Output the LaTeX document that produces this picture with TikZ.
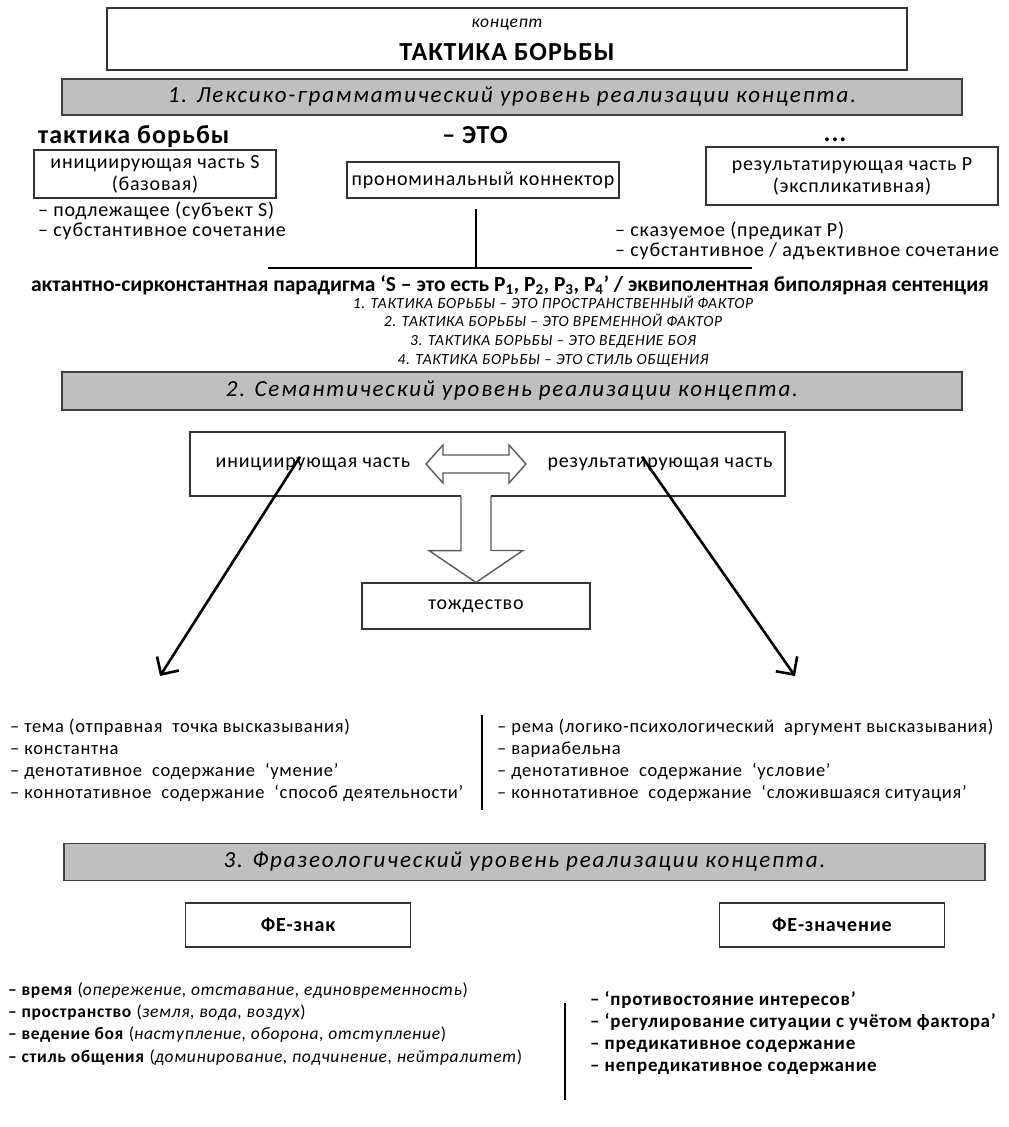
\documentclass[tikz,border=0pt]{standalone}
\usepackage{fontspec}
\setmainfont{Carlito}[LetterSpace=4]
\newfontfamily\barfont{Carlito}[LetterSpace=8]
\newfontfamily\tightfont{Carlito}
\usetikzlibrary{arrows.meta}

\newcommand\bodysize{\fontsize{20}{22}\selectfont}

\begin{document}
\begin{tikzpicture}[
    x=1pt, y=-1pt,
    box/.style={
        draw=black!80,
        line width=1.1pt,
        fill=white,
        inner sep=0pt,
        align=center,
        font=\bodysize
    },
    bar/.style={
        draw=black!75,
        line width=1.4pt,
        fill=gray!50,
        inner sep=0pt,
        font=\barfont\fontsize{23}{26}\selectfont\itshape
    },
    txt/.style={
        inner sep=0pt,
        font=\bodysize
    },
    item/.style={
        txt,
        anchor=base west
    },
    rule/.style={
        line width=2.6pt
    },
    pointer/.style={
        line width=2.6pt,
        -{Straight Barb[length=13pt, width=26pt]}
    },
    hollow/.style={
        draw=gray!70!black,
        line width=1.4pt,
        fill=white,
        line join=miter
    }
]
\useasboundingbox (0,0) rectangle (1009,1127);
\fill[white] (0,0) rectangle (1009,1127);

% title
\node[box, minimum width=800pt, minimum height=62pt] (title) at (507,39) {};
\node[txt, font=\fontsize{17.5}{20}\selectfont\itshape] (concept) at (507,25) {концепт};
\node[txt, font=\fontsize{26}{30}\selectfont\bfseries] (name) at (507,52) {ТАКТИКА БОРЬБЫ};

% level 1
\node[bar, minimum width=900pt, minimum height=36pt] (level1) at (512,97)
    {1. Лексико-грамматический\ уровень реализации концепта.};

\node[txt, anchor=base west, font=\fontsize{26}{30}\selectfont\bfseries] (subject) at (38,143) {тактика борьбы};
\node[txt, anchor=base, font=\fontsize{26}{30}\selectfont\bfseries] (copula) at (475,143) {– ЭТО};
\node[txt, anchor=base, font=\fontsize{26}{30}\selectfont\bfseries] (dots) at (835,141) {...};

\node[box, minimum width=242pt, minimum height=48pt] (partS) at (155,174)
    {инициирующая часть S\\(базовая)};
\node[box, minimum width=272pt, minimum height=36pt] (connector) at (483,180)
    {прономинальный коннектор};
\node[box, minimum width=292pt, minimum height=58pt] (partP) at (852,176)
    {результатирующая часть P\\(экспликативная)};

\foreach \txt [count=\i] in {{– подлежащее (субъект S)}, {– субстантивное сочетание}}
    \node[item] (subj-\i) at (38,{196+20*\i}) {\txt};
\foreach \txt [count=\i] in {{– сказуемое (предикат P)}, {– субстантивное / адъективное сочетание}}
    \node[item] (pred-\i) at (615,{216+20*\i}) {\txt};

\coordinate (fork) at (476,268);
\coordinate (forkL) at (268,268);
\coordinate (forkR) at (752,268);
\draw[rule] ([yshift=-10pt]connector.south -| fork) -- (fork);
\draw[rule] (forkL) -- (forkR);

\node[txt, anchor=base, font=\tightfont\fontsize{21.5}{24}\selectfont\bfseries] (paradigm) at (510,291)
    {актантно-сирконстантная парадигма ‘S – это есть P\textsubscript{1}, P\textsubscript{2}, P\textsubscript{3}, P\textsubscript{4}’ / эквиполентная биполярная сентенция};
\foreach \txt [count=\i] in {
    {ПРОСТРАНСТВЕННЫЙ ФАКТОР},
    {ВРЕМЕННОЙ ФАКТОР},
    {ВЕДЕНИЕ БОЯ},
    {СТИЛЬ ОБЩЕНИЯ}}
    \node[txt, anchor=base, font=\fontsize{15.5}{18}\selectfont\itshape] (example-\i) at (553,{289.5+18.7*\i})
        {\i. ТАКТИКА БОРЬБЫ – ЭТО \txt};

% level 2
\node[bar, minimum width=900pt, minimum height=38pt] (level2) at (512,391)
    {2. Семантический уровень реализации концепта.};

\node[box, minimum width=595pt, minimum height=64pt] (semantic) at (487.5,464) {};
\node[txt] (initL) at (313,464) {инициирующая часть};
\node[txt] (resultL) at (660,464) {результатирующая часть};

\draw[hollow] (426,464) -- (443,445) -- (443,455) -- (509,455) -- (509,445)
    -- (526,464) -- (509,483) -- (509,473) -- (443,473) -- (443,483) -- cycle;

\node[box, minimum width=228pt, minimum height=46pt] (identity) at (476,606) {тождество};

\fill[white] ([xshift=-15pt]identity.north |- semantic.south) ++(0,-2) rectangle ++(30,4);
\draw[hollow, fill=none] ([xshift=-15pt]identity.north |- semantic.south)
    -- ++(0,54) -- ++(-32,0) -- (identity.north) -- ++(47,-32) -- ++(-32,0)
    -- ++(0,-54);

\coordinate (themeTip) at (160,676);
\coordinate (rhemeTip) at (795,676);
\draw[pointer] ([shift={(-13pt,14pt)}]initL.south) -- (themeTip);
\draw[pointer] ([shift={(-18pt,14pt)}]resultL.south) -- (rhemeTip);

\foreach \txt [count=\i] in {
    {– тема (отправная\ \ точка высказывания)},
    {– константна},
    {– денотативное\ \ содержание\ \ ‘умение’},
    {– коннотативное\ \ содержание\ \ ‘способ деятельности’}}
    \node[item, font=\fontsize{18.5}{20}\selectfont] (theme-\i) at (10,{710+22*\i}) {\txt};
\foreach \txt [count=\i] in {
    {– рема (логико-психологический\ \ аргумент высказывания)},
    {– вариабельна},
    {– денотативное\ \ содержание\ \ ‘условие’},
    {– коннотативное\ \ содержание\ \ ‘сложившаяся ситуация’}}
    \node[item, font=\fontsize{18.5}{20}\selectfont] (rheme-\i) at (497,{710+22*\i}) {\txt};
\coordinate (splitA) at (482,715);
\coordinate (splitB) at (482,810);
\draw[rule] (splitA) -- (splitB);

% level 3
\node[bar, minimum width=921pt, minimum height=37pt] (level3) at (524.5,862)
    {3. Фразеологический уровень реализации концепта.};

\node[box, minimum width=225pt, minimum height=44pt, font=\bodysize\bfseries] (sign) at (298,925) {ФЕ-знак};
\node[box, minimum width=225pt, minimum height=44pt, font=\bodysize\bfseries] (meaning) at (832,925) {ФЕ-значение};

\foreach \key/\txt [count=\i] in {
    время/{опережение, отставание, единовременность},
    пространство/{земля, вода, воздух},
    ведение боя/{наступление, оборона, отступление},
    стиль общения/{доминирование, подчинение, нейтралитет}}
    \node[item, font=\fontsize{17.5}{20}\selectfont] (form-\i) at (8,{973+22.3*\i}) {\textbf{– \key} (\textit{\txt})};
\foreach \txt [count=\i] in {
    {– ‘противостояние интересов’},
    {– ‘регулирование ситуации с учётом фактора’},
    {– предикативное содержание},
    {– непредикативное содержание}}
    \node[item, font=\fontsize{19}{21}\selectfont\bfseries] (sense-\i) at (590,{983+22*\i}) {\txt};
\coordinate (splitC) at (565,1003);
\coordinate (splitD) at (565,1100);
\draw[rule] (splitC) -- (splitD);

\end{tikzpicture}
\end{document}
